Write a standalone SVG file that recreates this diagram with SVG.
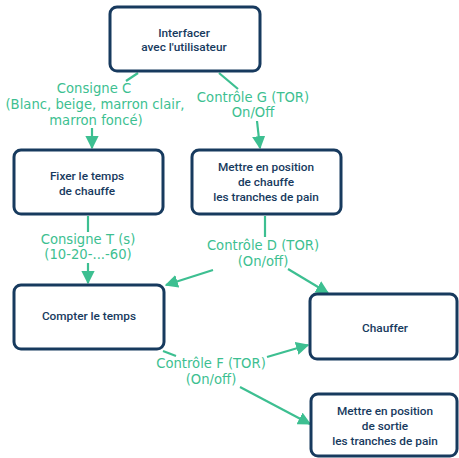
<svg xmlns="http://www.w3.org/2000/svg" width="459" height="458" viewBox="0 0 459 458">
<style>
.box{fill:#fff;stroke:#173a5e;stroke-width:3}
.nt{font-family:Roboto,"Liberation Sans",sans-serif;font-weight:500;font-size:11.8px;fill:#173a5e;text-anchor:middle}
.lt{font-family:"DejaVu Sans",Verdana,sans-serif;font-size:13.2px;fill:#3dbf91;text-anchor:middle}
.c{stroke:#3dbf91;stroke-width:2.2;fill:none}
</style>
<defs>
<marker id="ah" viewBox="0 0 10 10" refX="9" refY="5" markerWidth="6" markerHeight="6" orient="auto" markerUnits="strokeWidth">
<path d="M0,0 L10,5 L0,10 z" fill="#3dbf91"/>
</marker>
</defs>
<rect width="459" height="458" fill="#fff"/>
<g id="connectors">
<line class="c" x1="138" y1="73" x2="126" y2="81"/>
<line class="c" x1="92" y1="128" x2="92" y2="148" marker-end="url(#ah)"/>
<line class="c" x1="219" y1="73" x2="238" y2="89"/>
<line class="c" x1="257" y1="121" x2="260" y2="148" marker-end="url(#ah)"/>
<line class="c" x1="88" y1="216" x2="88" y2="232"/>
<line class="c" x1="88" y1="263" x2="88" y2="283" marker-end="url(#ah)"/>
<line class="c" x1="265" y1="216" x2="265" y2="237"/>
<line class="c" x1="213" y1="270" x2="166" y2="285" marker-end="url(#ah)"/>
<line class="c" x1="288" y1="269" x2="328" y2="293" marker-end="url(#ah)"/>
<line class="c" x1="163" y1="351" x2="176" y2="356"/>
<line class="c" x1="267" y1="357" x2="308" y2="345" marker-end="url(#ah)"/>
<line class="c" x1="240" y1="387" x2="310" y2="424" marker-end="url(#ah)"/>
<text class="lt" x="94" y="93">Consigne C</text>
<text class="lt" x="95" y="109">(Blanc, beige, marron clair,</text>
<text class="lt" x="96" y="125">marron foncé)</text>
<text class="lt" x="253" y="102">Contrôle G (TOR)</text>
<text class="lt" x="253" y="117">On/Off</text>
<text class="lt" x="88" y="244">Consigne T (s)</text>
<text class="lt" x="88" y="259">(10-20-...-60)</text>
<text class="lt" x="263" y="250">Contrôle D (TOR)</text>
<text class="lt" x="263" y="266">(On/off)</text>
<text class="lt" x="211" y="368">Contrôle F (TOR)</text>
<text class="lt" x="211" y="384">(On/off)</text>
</g>
<g id="n1">
<rect class="box" x="110" y="7" width="150" height="64" rx="7"/>
<text class="nt" x="184" y="37">Interfacer</text>
<text class="nt" x="184" y="51">avec l'utilisateur</text>
</g>
<g id="n2">
<rect class="box" x="14" y="150" width="149" height="64" rx="7"/>
<text class="nt" x="87" y="180">Fixer le temps</text>
<text class="nt" x="87" y="195">de chauffe</text>
</g>
<g id="n3">
<rect class="box" x="192" y="150" width="149" height="64" rx="7"/>
<text class="nt" x="266" y="171">Mettre en position</text>
<text class="nt" x="266" y="186">de chauffe</text>
<text class="nt" x="266" y="201">les tranches de pain</text>
</g>
<g id="n4">
<rect class="box" x="14" y="285" width="150" height="64" rx="7"/>
<text class="nt" x="89" y="320">Compter le temps</text>
</g>
<g id="n5">
<rect class="box" x="310" y="294" width="147" height="65" rx="7"/>
<text class="nt" x="385" y="332">Chauffer</text>
</g>
<g id="n6">
<rect class="box" x="311" y="394" width="146" height="62" rx="7"/>
<text class="nt" x="385" y="415">Mettre en position</text>
<text class="nt" x="385" y="430">de sortie</text>
<text class="nt" x="385" y="445">les tranches de pain</text>
</g>
</svg>
